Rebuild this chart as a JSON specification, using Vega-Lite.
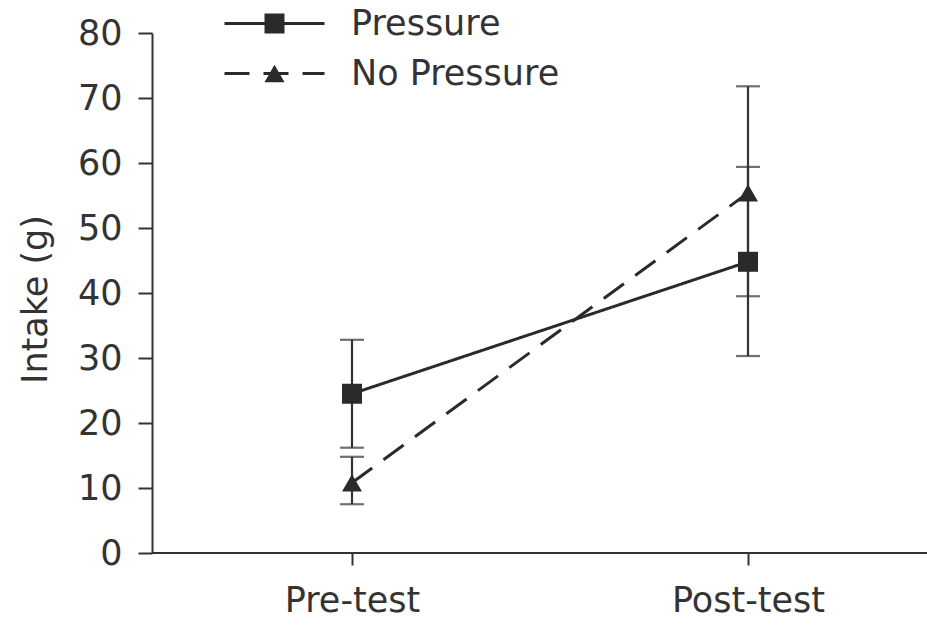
{
  "$schema": "https://vega.github.io/schema/vega-lite/v6.json",
  "width": 775,
  "height": 520,
  "autosize": "none",
  "padding": {"left": 152, "top": 33, "right": 0, "bottom": 74},
  "background": "#ffffff",
  "config": {"view": {"stroke": null}, "font": "DejaVu Sans"},
  "data": {
    "values": [
      {"group": "Pressure", "phase": "Pre-test", "mean": 24.5, "lo": 16.2, "hi": 32.8},
      {"group": "Pressure", "phase": "Post-test", "mean": 44.8, "lo": 30.3, "hi": 59.4},
      {"group": "No Pressure", "phase": "Pre-test", "mean": 10.8, "lo": 7.5, "hi": 14.8},
      {"group": "No Pressure", "phase": "Post-test", "mean": 55.4, "lo": 39.5, "hi": 71.8}
    ]
  },
  "resolve": {"legend": {"shape": "independent", "strokeDash": "independent"}},
  "layer": [
    {
      "mark": {"type": "rule", "color": "#333333", "strokeWidth": 2},
      "encoding": {"y": {"datum": 0, "type": "quantitative"}}
    },
    {
      "mark": {
        "type": "errorbar",
        "color": "#333333",
        "ticks": {"size": 24, "thickness": 2.2, "color": "#333333"},
        "rule": {"strokeWidth": 2.2, "color": "#333333"}
      },
      "encoding": {
        "x": {
          "field": "phase",
          "type": "nominal",
          "scale": {"type": "point", "domain": ["Pre-test", "Post-test"], "range": [200, 596], "padding": 0},
          "axis": {
            "title": null,
            "domain": false,
            "ticks": true,
            "tickSize": 12,
            "tickWidth": 2,
            "tickColor": "#333333",
            "labelFont": "DejaVu Sans",
            "labelFontSize": 35,
            "labelColor": "#333333",
            "labelPadding": 18,
            "labelAngle": 0
          }
        },
        "y": {
          "field": "lo",
          "type": "quantitative",
          "scale": {"domain": [0, 80], "nice": false, "zero": true},
          "axis": {
            "title": "Intake (g)",
            "values": [0, 10, 20, 30, 40, 50, 60, 70, 80],
            "grid": false,
            "domainColor": "#333333",
            "domainWidth": 2,
            "tickColor": "#333333",
            "tickWidth": 2,
            "tickSize": 14,
            "labelFont": "DejaVu Sans",
            "labelFontSize": 35,
            "labelColor": "#333333",
            "labelPadding": 16,
            "titleFont": "DejaVu Sans",
            "titleFontSize": 35,
            "titleFontWeight": "normal",
            "titleColor": "#333333",
            "titleAngle": -90,
            "titleAlign": "center",
            "titleBaseline": "middle",
            "titleX": -117,
            "titleY": 266
          }
        },
        "y2": {"field": "hi"}
      }
    },
    {
      "mark": {"type": "line", "color": "#2a2a2a", "strokeWidth": 3},
      "encoding": {
        "x": {"field": "phase", "type": "nominal"},
        "y": {"field": "mean", "type": "quantitative"},
        "detail": {"field": "group"},
        "strokeDash": {
          "field": "group",
          "type": "nominal",
          "scale": {"domain": ["Pressure", "No Pressure"], "range": [[1, 0], [25, 14]]},
          "legend": {
            "title": null,
            "orient": "none",
            "legendX": 105,
            "legendY": -27,
            "padding": 0,
            "rowPadding": 14,
            "labelFont": "DejaVu Sans",
            "labelFontSize": 35,
            "labelOpacity": 0,
            "labelOffset": 59,
            "labelLimit": 400,
            "symbolSize": 400,
            "symbolType": "M-5,0H5",
            "symbolStrokeWidth": 3,
            "symbolStrokeColor": "#2a2a2a"
          }
        }
      }
    },
    {
      "mark": {"type": "point", "filled": true, "opacity": 1, "color": "#2a2a2a", "size": 400},
      "encoding": {
        "x": {"field": "phase", "type": "nominal"},
        "y": {"field": "mean", "type": "quantitative"},
        "shape": {
          "field": "group",
          "type": "nominal",
          "scale": {"domain": ["Pressure", "No Pressure"], "range": ["square", "triangle-up"]},
          "legend": {
            "title": null,
            "orient": "none",
            "legendX": 105,
            "legendY": -27,
            "padding": 0,
            "rowPadding": 14,
            "labelFont": "DejaVu Sans",
            "labelFontSize": 35,
            "labelColor": "#333333",
            "labelOffset": 59,
            "labelLimit": 400,
            "symbolSize": 400
          }
        }
      }
    }
  ]
}
